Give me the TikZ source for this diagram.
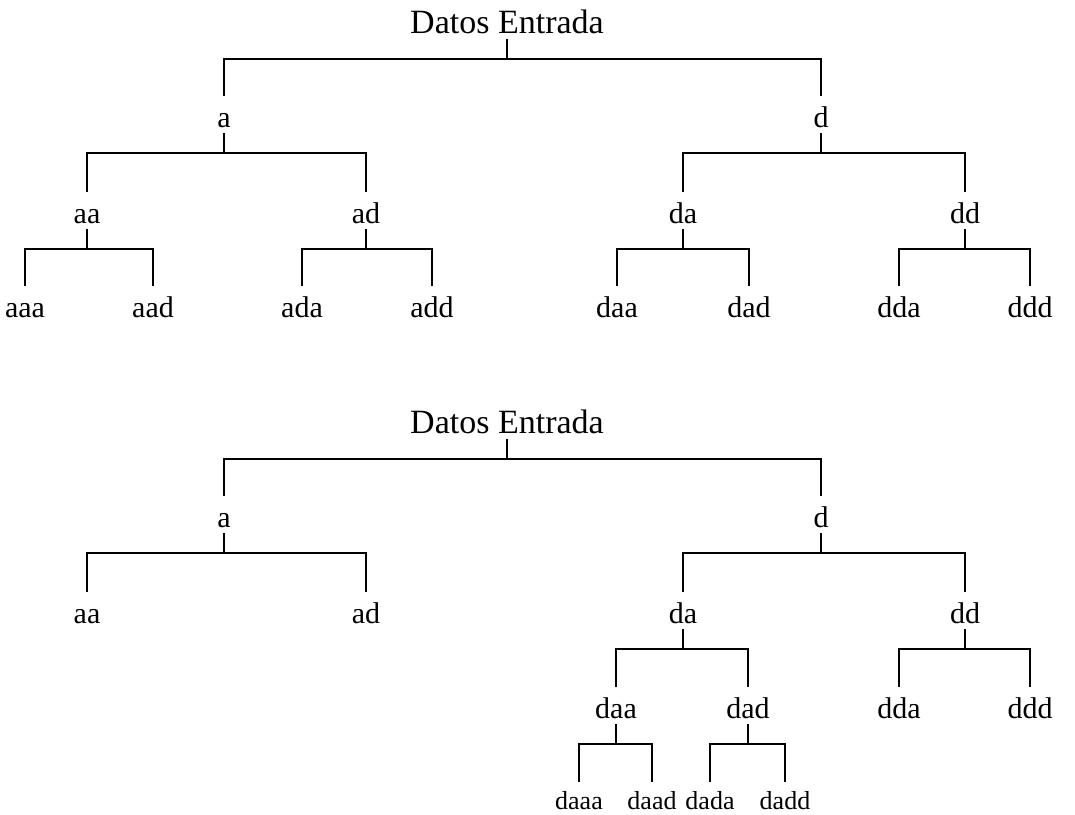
\documentclass[tikz,border=0pt]{standalone}
\usepackage{fontspec}
\setmainfont{Liberation Serif}
\tikzset{
  lbl/.style={anchor=base,inner xsep=1pt,inner ysep=1pt,text height=14.5pt,text depth=2pt,font=\fontsize{15}{17}\selectfont},
  ttl/.style={lbl,font=\fontsize{17}{19}\selectfont},
  sml/.style={lbl,text height=12.5pt,text depth=1pt,font=\fontsize{13}{15}\selectfont},
  br/.style={draw=black,line width=1pt},
}

\begin{document}
\begin{tikzpicture}[x=0.5pt,y=-0.5pt]
  \useasboundingbox (0,0) rectangle (1075,814);
  % full three-level decomposition
  \node[ttl] (in1) at (507,33) {Datos Entrada};
  \node[lbl] (a1) at (224,127) {a};
  \node[lbl] (d1) at (821,127) {d};
  \node[lbl] (aa1) at (87,223) {aa};
  \node[lbl] (ad1) at (366,223) {ad};
  \node[lbl] (da1) at (683,223) {da};
  \node[lbl] (dd1) at (965,223) {dd};
  \node[lbl] (aaa1) at (25,317) {aaa};
  \node[lbl] (aad1) at (153,317) {aad};
  \node[lbl] (ada1) at (302,317) {ada};
  \node[lbl] (add1) at (432,317) {add};
  \node[lbl] (daa1) at (617,317) {daa};
  \node[lbl] (dad1) at (749,317) {dad};
  \node[lbl] (dda1) at (899,317) {dda};
  \node[lbl] (ddd1) at (1030,317) {ddd};
  \draw[br] (in1.south) -- ++(0,20) -| (a1.north); \draw[br] (in1.south) -- ++(0,20) -| (d1.north);
  \draw[br] (a1.south) -- ++(0,20) -| (aa1.north); \draw[br] (a1.south) -- ++(0,20) -| (ad1.north);
  \draw[br] (d1.south) -- ++(0,20) -| (da1.north); \draw[br] (d1.south) -- ++(0,20) -| (dd1.north);
  \draw[br] (aa1.south) -- ++(0,20) -| (aaa1.north); \draw[br] (aa1.south) -- ++(0,20) -| (aad1.north);
  \draw[br] (ad1.south) -- ++(0,20) -| (ada1.north); \draw[br] (ad1.south) -- ++(0,20) -| (add1.north);
  \draw[br] (da1.south) -- ++(0,20) -| (daa1.north); \draw[br] (da1.south) -- ++(0,20) -| (dad1.north);
  \draw[br] (dd1.south) -- ++(0,20) -| (dda1.north); \draw[br] (dd1.south) -- ++(0,20) -| (ddd1.north);

  % partial decomposition, only the d branch goes deeper
  \node[ttl] (in2) at (507,433) {Datos Entrada};
  \node[lbl] (a2) at (224,527) {a};
  \node[lbl] (d2) at (821,527) {d};
  \node[lbl] (aa2) at (87,623) {aa};
  \node[lbl] (ad2) at (366,623) {ad};
  \node[lbl] (da2) at (683,623) {da};
  \node[lbl] (dd2) at (965,623) {dd};
  \node[lbl] (daa2) at (616,718) {daa};
  \node[lbl] (dad2) at (748,718) {dad};
  \node[lbl] (dda2) at (899,718) {dda};
  \node[lbl] (ddd2) at (1030,718) {ddd};
  \node[sml] (daaa2) at (579,809) {daaa};
  \node[sml] (daad2) at (652,809) {daad};
  \node[sml] (dada2) at (710,809) {dada};
  \node[sml] (dadd2) at (785,809) {dadd};
  \draw[br] (in2.south) -- ++(0,20) -| (a2.north); \draw[br] (in2.south) -- ++(0,20) -| (d2.north);
  \draw[br] (a2.south) -- ++(0,20) -| (aa2.north); \draw[br] (a2.south) -- ++(0,20) -| (ad2.north);
  \draw[br] (d2.south) -- ++(0,20) -| (da2.north); \draw[br] (d2.south) -- ++(0,20) -| (dd2.north);
  \draw[br] (da2.south) -- ++(0,20) -| (daa2.north); \draw[br] (da2.south) -- ++(0,20) -| (dad2.north);
  \draw[br] (dd2.south) -- ++(0,20) -| (dda2.north); \draw[br] (dd2.south) -- ++(0,20) -| (ddd2.north);
  \draw[br] (daa2.south) -- ++(0,20) -| (daaa2.north); \draw[br] (daa2.south) -- ++(0,20) -| (daad2.north);
  \draw[br] (dad2.south) -- ++(0,20) -| (dada2.north); \draw[br] (dad2.south) -- ++(0,20) -| (dadd2.north);
\end{tikzpicture}
\end{document}
